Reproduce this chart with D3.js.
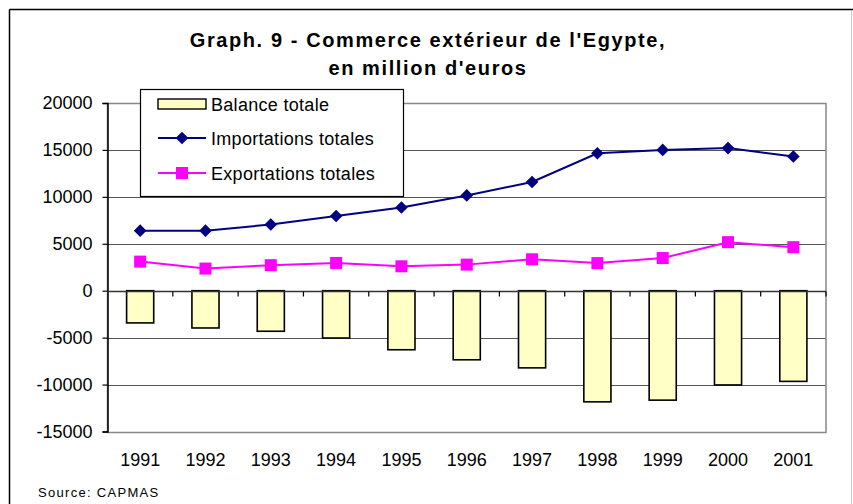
<!DOCTYPE html>
<html><head><meta charset="utf-8">
<script src="https://cdn.jsdelivr.net/npm/d3@7"></script>
<style>
body{margin:0;background:#fff;}
svg{display:block;font-family:"Liberation Sans",Arial,sans-serif;}
</style></head>
<body>
<svg id="c" width="853" height="504"></svg>
<script>
const years = ["1991","1992","1993","1994","1995","1996","1997","1998","1999","2000","2001"];
const balance = [-3430,-3970,-4320,-5040,-6290,-7360,-8220,-11840,-11660,-10040,-9660];
const imports = [6400,6400,7050,7960,8870,10150,11580,14650,15000,15200,14300];
const exportsT = [3100,2360,2720,2960,2600,2780,3350,2940,3480,5170,4640];
const yTicks = [20000,15000,10000,5000,0,-5000,-10000,-15000];
const titleLines = ["Graph. 9 - Commerce extérieur de l'Egypte,","en million d'euros"];
const legendLabels = ["Balance totale","Importations totales","Exportations totales"];
const sourceText = "Source: CAPMAS";

const svg = d3.select("#c");
const L=107.5, R=826, T=103, B=431.5;
const x = d3.scaleBand().domain(years).range([L,R]).paddingInner(0.585).paddingOuter(0.2925);
const xb = d3.scaleBand().domain(years).range([L,R]);
const y = d3.scaleLinear().domain([-15000,20000]).range([B,T]);

// outer frame
svg.append("line").attr("x1",9.5).attr("x2",9.5).attr("y1",9.5).attr("y2",504).attr("stroke","#000").attr("stroke-width",1.5);
svg.append("line").attr("x1",9.5).attr("x2",853).attr("y1",9.5).attr("y2",9.5).attr("stroke","#000").attr("stroke-width",1.5);
svg.append("line").attr("x1",851.5).attr("x2",851.5).attr("y1",11).attr("y2",504).attr("stroke","#ccc").attr("stroke-width",1);

// title
svg.append("g").selectAll("text").data(titleLines).join("text")
  .attr("x",428).attr("y",(d,i)=>47+i*28).attr("text-anchor","middle")
  .attr("font-size",20).attr("font-weight","bold").attr("letter-spacing",1.6).attr("fill","#000").text(d=>d);

// gridlines
svg.append("g").selectAll("line").data(yTicks).join("line")
  .attr("x1",L).attr("x2",R).attr("y1",d=>Math.round(y(d))+0.5).attr("y2",d=>Math.round(y(d))+0.5)
  .attr("stroke","#555").attr("stroke-width",1.2);
// plot border
svg.append("rect").attr("x",L).attr("y",Math.round(T)+0.5).attr("width",R-L).attr("height",Math.round(B)-Math.round(T))
  .attr("fill","none").attr("stroke","#888").attr("stroke-width",1.5);

// y axis
const yAxis = d3.axisLeft(y).tickValues(yTicks).tickSize(5).tickPadding(10).tickFormat(d=>String(d));
const gy = svg.append("g").attr("transform",`translate(${L},0)`).call(yAxis);
gy.select(".domain").attr("stroke","#000").attr("stroke-width",1.5);
gy.selectAll(".tick line").attr("stroke","#000").attr("stroke-width",1.2);
gy.selectAll(".tick text").attr("font-size",18).attr("fill","#000").attr("font-family","Liberation Sans, Arial, sans-serif");

// bars
svg.append("g").selectAll("rect").data(balance).join("rect")
  .attr("x",(d,i)=>x(years[i])).attr("width",x.bandwidth())
  .attr("y",d=>y(Math.max(0,d))).attr("height",d=>Math.abs(y(d)-y(0)))
  .attr("fill","#FFFFC6").attr("stroke","#000").attr("stroke-width",1.6);

// x axis at zero with ticks down
const gx = svg.append("g").attr("transform",`translate(0,${Math.round(y(0))+0.5})`);
gx.append("line").attr("x1",L).attr("x2",R).attr("stroke","#333").attr("stroke-width",1.5);
gx.selectAll("line.t").data(years.slice(1)).join("line").attr("class","t")
  .attr("x1",d=>xb(d)).attr("x2",d=>xb(d)).attr("y1",0).attr("y2",5).attr("stroke","#000").attr("stroke-width",1.2);
gx.append("line").attr("x1",R).attr("x2",R).attr("y1",0).attr("y2",5).attr("stroke","#000").attr("stroke-width",1.2);

// x labels at bottom
svg.append("g").selectAll("text").data(years).join("text")
  .attr("x",d=>xb(d)+xb.bandwidth()/2).attr("y",466).attr("text-anchor","middle")
  .attr("font-size",18).attr("fill","#000").text(d=>d);

// lines
const cx = (d,i)=>xb(years[i])+xb.bandwidth()/2;
const line = d3.line().x(cx).y(d=>y(d));
svg.append("path").datum(imports).attr("d",line).attr("fill","none").attr("stroke","#000080").attr("stroke-width",2);
svg.append("path").datum(exportsT).attr("d",line).attr("fill","none").attr("stroke","#FF00FF").attr("stroke-width",2);
const dia = d3.symbol().type(d3.symbolSquare).size(80);
svg.append("g").selectAll("path").data(imports).join("path")
  .attr("d",dia)
  .attr("transform",(d,i)=>`translate(${cx(d,i)},${y(d)}) rotate(45)`)
  .attr("fill","#000080");
svg.append("g").selectAll("rect").data(exportsT).join("rect")
  .attr("x",(d,i)=>cx(d,i)-6).attr("y",d=>y(d)-6).attr("width",12).attr("height",12).attr("fill","#FF00FF");

// legend
const lg = svg.append("g");
lg.append("rect").attr("x",140.5).attr("y",89.5).attr("width",263).attr("height",107).attr("fill","#fff").attr("stroke","#000").attr("stroke-width",1.2);
const ly = [104,138,173];
lg.append("rect").attr("x",158).attr("y",ly[0]-5).attr("width",48).attr("height",10).attr("fill","#FFFFC6").attr("stroke","#000").attr("stroke-width",1.4);
lg.append("line").attr("x1",158).attr("x2",206).attr("y1",ly[1]).attr("y2",ly[1]).attr("stroke","#000080").attr("stroke-width",2);
lg.append("path").attr("transform",`translate(182,${ly[1]}) rotate(45)`).attr("d",dia).attr("fill","#000080");
lg.append("line").attr("x1",158).attr("x2",206).attr("y1",ly[2]).attr("y2",ly[2]).attr("stroke","#FF00FF").attr("stroke-width",2);
lg.append("rect").attr("x",176).attr("y",ly[2]-6).attr("width",12).attr("height",12).attr("fill","#FF00FF");
lg.selectAll("text").data(legendLabels).join("text")
  .attr("x",211).attr("y",(d,i)=>ly[i]+6.5).attr("font-size",18).attr("letter-spacing",0.3).attr("fill","#000").text(d=>d);

// source
svg.append("text").attr("x",38).attr("y",497).attr("font-size",13).attr("letter-spacing",1.3).attr("fill","#000").text(sourceText);
</script>
</body></html>
